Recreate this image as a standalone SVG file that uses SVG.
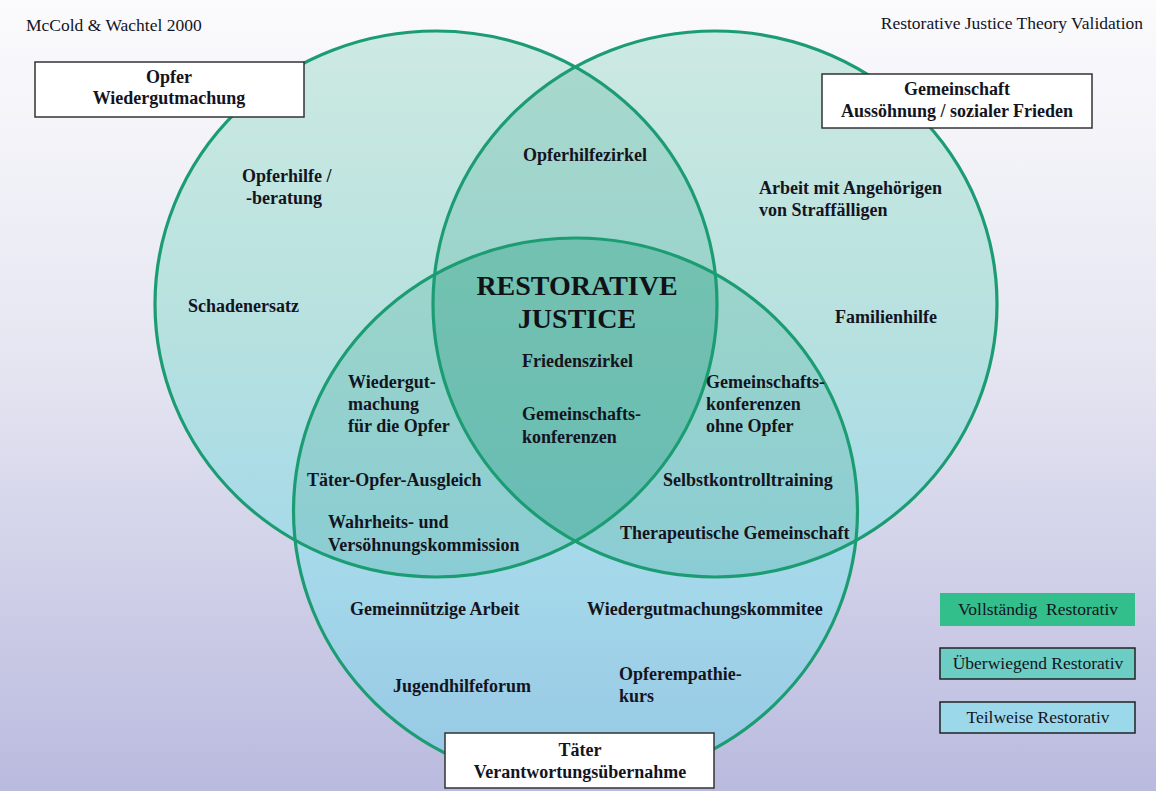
<svg xmlns="http://www.w3.org/2000/svg" width="1156" height="791" viewBox="0 0 1156 791">
<defs>
<linearGradient id="bg" x1="0" y1="0" x2="0" y2="791" gradientUnits="userSpaceOnUse">
<stop offset="0" stop-color="#fbfbfd"/>
<stop offset="0.45" stop-color="#e6e6f2"/>
<stop offset="1" stop-color="#babadf"/>
</linearGradient>
<linearGradient id="cf" x1="0" y1="30" x2="0" y2="790" gradientUnits="userSpaceOnUse">
<stop offset="0" stop-color="#cde9e2"/>
<stop offset="0.4" stop-color="#b6e1df"/>
<stop offset="0.7" stop-color="#a5d9ea"/>
<stop offset="1" stop-color="#95c7e4"/>
</linearGradient>
<clipPath id="clipA"><ellipse cx="436" cy="304" rx="281" ry="273"/></clipPath>
<clipPath id="clipB"><ellipse cx="715" cy="304" rx="282" ry="273"/></clipPath>
<ellipse id="eA" cx="436" cy="304" rx="281" ry="273"/>
<ellipse id="eB" cx="715" cy="304" rx="282" ry="273"/>
<ellipse id="eC" cx="575.5" cy="511" rx="282" ry="273"/>
</defs>
<style>
.ring{fill:none;stroke:#1c9c72;stroke-width:3.2}
.base{fill:url(#cf)}
.ov{fill:#3aa88e;fill-opacity:0.24}
.box{fill:#ffffff;stroke:#333333;stroke-width:1.5}
.b{font-family:"Liberation Serif","Times New Roman",serif;font-weight:bold;font-size:18px;fill:#14141e}
.r{font-family:"Liberation Serif","Times New Roman",serif;font-size:17.5px;fill:#14141e}
.big{font-family:"Liberation Serif","Times New Roman",serif;font-weight:bold;font-size:28px;fill:#111118}
.c{text-anchor:middle}
</style>
<rect width="1156" height="791" fill="url(#bg)"/>
<text class="r" x="26" y="31">McCold &amp; Wachtel 2000</text>
<text class="r" x="1143" y="29" text-anchor="end">Restorative Justice Theory Validation</text>

<g id="circles">
<use href="#eA" class="base"/>
<use href="#eB" class="base"/>
<use href="#eC" class="base"/>
<use href="#eB" class="ov" clip-path="url(#clipA)"/>
<use href="#eC" class="ov" clip-path="url(#clipA)"/>
<use href="#eC" class="ov" clip-path="url(#clipB)"/>
<use href="#eA" class="ring"/>
<use href="#eB" class="ring"/>
<use href="#eC" class="ring"/>
</g>

<g id="connectors"/>

<g id="node-opfer">
<rect class="box" x="35" y="62" width="269" height="55"/>
<text class="b c" x="169" y="83">Opfer</text>
<text class="b c" x="169" y="104">Wiedergutmachung</text>
</g>
<g id="node-gemeinschaft">
<rect class="box" x="822" y="74" width="270" height="54"/>
<text class="b c" x="957" y="95">Gemeinschaft</text>
<text class="b c" x="957" y="117">Aussöhnung / sozialer Frieden</text>
</g>
<g id="node-taeter">
<rect class="box" x="445" y="733" width="269" height="55"/>
<text class="b c" x="580" y="756">Täter</text>
<text class="b c" x="580" y="778">Verantwortungsübernahme</text>
</g>

<g id="center">
<text class="big c" x="577" y="295">RESTORATIVE</text>
<text class="big c" x="577" y="328">JUSTICE</text>
<text class="b" x="522" y="367">Friedenszirkel</text>
<text class="b" x="522" y="420">Gemeinschafts-</text>
<text class="b" x="522" y="443">konferenzen</text>
</g>

<g id="items">
<text class="b" x="242" y="182">Opferhilfe /</text>
<text class="b" x="246" y="204">-beratung</text>
<text class="b" x="188" y="312">Schadenersatz</text>
<text class="b c" x="585" y="161">Opferhilfezirkel</text>
<text class="b" x="759" y="194">Arbeit mit Angehörigen</text>
<text class="b" x="759" y="216">von Straffälligen</text>
<text class="b" x="835" y="323">Familienhilfe</text>
<text class="b" x="348" y="388">Wiedergut-</text>
<text class="b" x="348" y="410">machung</text>
<text class="b" x="348" y="432">für die Opfer</text>
<text class="b" x="307" y="486">Täter-Opfer-Ausgleich</text>
<text class="b" x="328" y="528">Wahrheits- und</text>
<text class="b" x="328" y="551">Versöhnungskommission</text>
<text class="b" x="706" y="388">Gemeinschafts-</text>
<text class="b" x="706" y="410">konferenzen</text>
<text class="b" x="706" y="432">ohne Opfer</text>
<text class="b" x="663" y="486">Selbstkontrolltraining</text>
<text class="b" x="620" y="539">Therapeutische Gemeinschaft</text>
<text class="b" x="350" y="615">Gemeinnützige Arbeit</text>
<text class="b" x="587" y="615">Wiedergutmachungskommitee</text>
<text class="b" x="393" y="692">Jugendhilfeforum</text>
<text class="b" x="619" y="680">Opferempathie-</text>
<text class="b" x="619" y="702">kurs</text>
</g>

<g id="legend">
<g id="legend-full">
<rect x="940" y="593" width="195" height="33" fill="#33bf8c"/>
<text class="r c" x="1038" y="615" xml:space="preserve">Vollständig  Restorativ</text>
</g>
<g id="legend-mostly">
<rect x="940" y="648" width="195" height="31" fill="#6ccdc4" stroke="#222" stroke-width="1.5"/>
<text class="r c" x="1038" y="669">Überwiegend Restorativ</text>
</g>
<g id="legend-partly">
<rect x="940" y="702" width="195" height="31" fill="#9bd8ea" stroke="#222" stroke-width="1.5"/>
<text class="r c" x="1038" y="723">Teilweise Restorativ</text>
</g>
</g>
</svg>
